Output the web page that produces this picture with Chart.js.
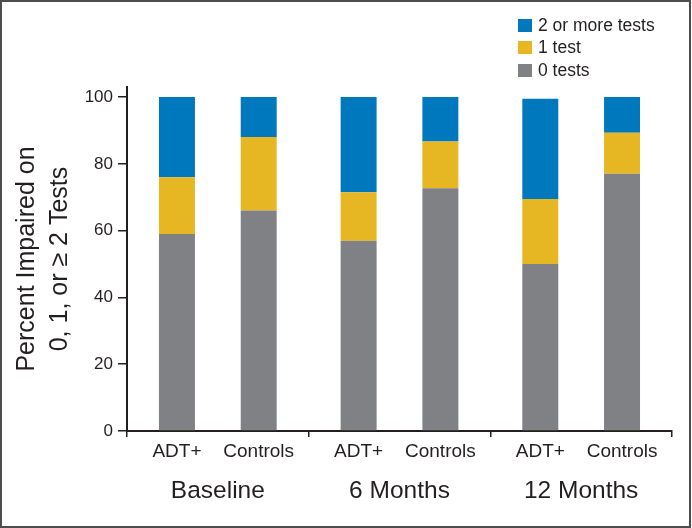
<!DOCTYPE html>
<html><head><meta charset="utf-8">
<script src="https://cdn.jsdelivr.net/npm/chart.js@4/dist/chart.umd.min.js"></script>
<style>
html,body{margin:0;padding:0;background:#fff;}
#wrap{position:relative;width:692px;height:528px;overflow:hidden;}
#c{position:absolute;left:0;top:0;}
#frame{position:absolute;left:0;top:0;width:691px;height:528px;box-sizing:border-box;border:2px solid #4d4d4d;pointer-events:none;}
#legend{position:absolute;left:518px;top:14px;font-family:"Liberation Sans",Arial,sans-serif;font-size:17.5px;color:#231f20;}
.item{display:flex;align-items:center;height:22.5px;white-space:nowrap;}
.box{width:14px;height:13px;margin-right:6px;flex:none;}
</style></head>
<body><div id="wrap"><canvas id="c" width="692" height="528"></canvas><div id="legend"></div><div id="frame"></div></div>
<script>
// ---- data ----
const timepoints = ["Baseline", "6 Months", "12 Months"];
const groups = ["ADT+", "Controls"];
const seriesNames = ["0 tests", "1 test", "2 or more tests"];
const adtZero = [59, 57, 50];
const adtOne = [17, 14.5, 19.5];
const adtTwoPlus = [24, 28.5, 30];
const ctlZero = [66, 72.7, 77];
const ctlOne = [22, 14, 12.3];
const ctlTwoPlus = [12, 13.3, 10.7];
const yTickValues = [0, 20, 40, 60, 80, 100];
const yTitle = ["Percent Impaired on", "0, 1, or \u2265 2 Tests"];

// ---- styles ----
const colors = ["#808185", "#e6b722", "#0078be"];
const ink = "#231f20";

const groupData = { "ADT+": [adtZero, adtOne, adtTwoPlus], "Controls": [ctlZero, ctlOne, ctlTwoPlus] };
const datasets = [];
groups.forEach(g => {
  groupData[g].forEach((vals, k) => {
    datasets.push({
      label: seriesNames[k],
      data: vals,
      stack: g,
      backgroundColor: colors[k],
      borderWidth: 0,
      categoryPercentage: 0.9,
      barPercentage: 0.44
    });
  });
});

const subLabelPlugin = {
  id: 'subLabels',
  afterDraw(chart) {
    const ctx = chart.ctx;
    ctx.save();
    ctx.font = '19px "Liberation Sans", Arial, sans-serif';
    ctx.fillStyle = ink;
    ctx.textAlign = 'center';
    ctx.textBaseline = 'middle';
    groups.forEach((g, gi) => {
      const dsIndex = gi * seriesNames.length;
      const meta = chart.getDatasetMeta(dsIndex);
      meta.data.forEach(bar => {
        ctx.fillText(g, bar.x, chart.chartArea.bottom + 21);
      });
    });
    ctx.restore();
  }
};

new Chart(document.getElementById('c'), {
  type: 'bar',
  data: { labels: timepoints, datasets },
  plugins: [subLabelPlugin],
  options: {
    responsive: false,
    devicePixelRatio: 1,
    animation: false,
    layout: { padding: { top: 87, right: 20, bottom: 0, left: 0 } },
    plugins: { legend: { display: false }, tooltip: { enabled: false }, title: { display: false } },
    scales: {
      x: {
        stacked: true,
        offset: true,
        afterFit(scale) { scale.height = 97; },
        grid: { display: true, drawOnChartArea: false, drawTicks: true, tickLength: 6, offset: true, color: ink, lineWidth: 1.5 },
        border: { display: true, color: ink, width: 2 },
        ticks: { color: ink, padding: 40, font: { family: '"Liberation Sans", Arial, sans-serif', size: 24.5 } }
      },
      y: {
        stacked: true,
        min: 0,
        max: 103,
        afterFit(scale) { scale.width = 127; },
        afterBuildTicks(scale) { scale.ticks = yTickValues.map(v => ({ value: v })); },
        grid: { display: true, drawOnChartArea: false, drawTicks: true, tickLength: 9, color: ink, lineWidth: 1.5 },
        border: { display: true, color: ink, width: 2 },
        ticks: { color: ink, padding: 5, font: { family: '"Liberation Sans", Arial, sans-serif', size: 17 } },
        title: {
          display: true,
          text: yTitle,
          color: ink,
          padding: { top: 11, bottom: 0 },
          font: { family: '"Liberation Sans", Arial, sans-serif', size: 25, lineHeight: 1.32 }
        }
      }
    }
  }
});

// HTML legend (top item = top of stack)
const legendEl = document.getElementById('legend');
for (let k = seriesNames.length - 1; k >= 0; k--) {
  const item = document.createElement('div');
  item.className = 'item';
  const box = document.createElement('span');
  box.className = 'box';
  box.style.background = colors[k];
  const txt = document.createElement('span');
  txt.textContent = seriesNames[k];
  item.appendChild(box); item.appendChild(txt);
  legendEl.appendChild(item);
}
</script>
</body></html>
